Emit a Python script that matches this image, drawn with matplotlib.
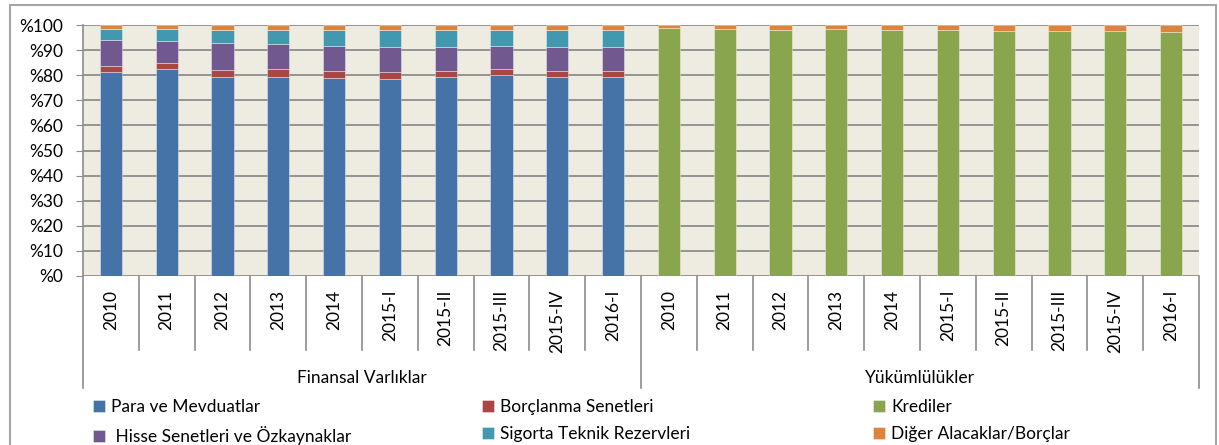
import numpy as np
import matplotlib.pyplot as plt
import matplotlib.transforms as mtransforms
from matplotlib.patches import Rectangle

plt.rcParams['font.family'] = ['Lato', 'DejaVu Sans']

periods = ['2010', '2011', '2012', '2013', '2014', '2015-I', '2015-II', '2015-III', '2015-IV', '2016-I']
groups = ['Finansal Varlıklar', 'Yükümlülükler']

# financial assets, share in %
para = [81.1, 82.5, 79.3, 79.3, 78.7, 78.5, 79.1, 80.0, 79.1, 79.2]
borclanma = [2.4, 2.3, 2.7, 3.0, 2.9, 2.8, 2.6, 2.4, 2.4, 2.4]
hisse = [10.6, 9.0, 10.7, 10.3, 10.0, 10.1, 9.7, 9.3, 9.7, 9.5]
sigorta = [4.4, 4.6, 5.5, 5.6, 6.6, 6.8, 6.8, 6.5, 7.0, 7.1]
diger_varlik = [1.5, 1.6, 1.8, 1.8, 1.8, 1.8, 1.8, 1.8, 1.8, 1.8]

# liabilities, share in %
krediler = [98.8, 98.5, 98.1, 98.3, 97.9, 97.9, 97.7, 97.7, 97.6, 97.3]
diger_borc = [1.2, 1.5, 1.9, 1.7, 2.1, 2.1, 2.3, 2.3, 2.4, 2.7]

yticks = [0, 10, 20, 30, 40, 50, 60, 70, 80, 90, 100]
ytick_labels = ['%0', '%10', '%20', '%30', '%40', '%50', '%60', '%70', '%80', '%90', '%100']

zeros = [0] * len(periods)
series = [
    ('Para ve Mevduatlar', para + zeros, '#4572a7'),
    ('Borçlanma Senetleri', borclanma + zeros, '#aa4643'),
    (' Hisse Senetleri ve Özkaynaklar', hisse + zeros, '#71588f'),
    ('Sigorta Teknik Rezervleri', sigorta + zeros, '#4198af'),
    ('Krediler', zeros + krediler, '#89a54e'),
    ('Diğer Alacaklar/Borçlar', diger_varlik + diger_borc, '#db843d'),
]

labels = periods + periods
x = np.arange(len(labels))
fs = 12.5

fig = plt.figure(figsize=(12.19, 4.45), dpi=100)
ax = fig.add_axes([83 / 1219, 1 - 276 / 445, 1116 / 1219, 251 / 445])
ax.set_facecolor('#eeece1')

bottom = np.zeros(len(labels))
handles = {}
for name, vals, color in series:
    vals = np.array(vals, dtype=float)
    bars = ax.bar(x, vals, 0.4, bottom=bottom, color=color,
                  edgecolor=(1, 1, 1, 0.45), linewidth=0.6, zorder=3)
    handles[name] = bars
    bottom += vals

ax.set_xlim(-0.5, len(labels) - 0.5)
ax.set_ylim(0, 100)
ax.set_yticks(yticks, ytick_labels)
ax.yaxis.grid(True, color='#8c8c8c', linewidth=1.3, zorder=0)
ax.set_axisbelow(True)
ax.tick_params(axis='y', length=5, color='#8c8c8c', pad=9, labelsize=fs, labelcolor='black')
ax.set_xticks(x, labels, rotation=90)
ax.tick_params(axis='x', length=0, pad=10, labelsize=fs)

for side in ['top', 'right', 'bottom']:
    ax.spines[side].set_visible(False)
ax.spines['left'].set_color('#8c8c8c')
ax.spines['left'].set_linewidth(1.2)

# two-level category axis separators
trans = mtransforms.blended_transform_factory(ax.transData, ax.transAxes)
for b in np.arange(-0.5, len(labels), 1.0):
    if b in (-0.5, 9.5, 19.5):
        y_end = -0.446
    else:
        y_end = -0.295
    ax.plot([b, b], [0, y_end], color='#8c8c8c', linewidth=1.2,
            transform=trans, clip_on=False)

for i, g in enumerate(groups):
    ax.text(i * 10 + 4.5, -0.406, g, transform=trans, ha='center', va='center', fontsize=fs)

# legend in three columns
cols = [
    (['Para ve Mevduatlar', ' Hisse Senetleri ve Özkaynaklar'], 93),
    (['Borçlanma Senetleri', 'Sigorta Teknik Rezervleri'], 482),
    (['Krediler', 'Diğer Alacaklar/Borçlar'], 873),
]
for names, px in cols:
    leg = fig.legend([handles[n] for n in names], names, loc='upper left',
                     bbox_to_anchor=(px / 1219, 1 - 399 / 445), frameon=False,
                     fontsize=fs, handlelength=0.7, handleheight=0.7,
                     handletextpad=0.35, labelspacing=0.66, borderpad=0,
                     borderaxespad=0)

fig.patches.append(Rectangle((9.5 / 1219, -0.1), 1206 / 1219, 0.1 + 1 - 5 / 445,
                             transform=fig.transFigure, fill=False,
                             edgecolor='#a6a6a6', linewidth=1.5))

fig.savefig('out.png', dpi=100)
